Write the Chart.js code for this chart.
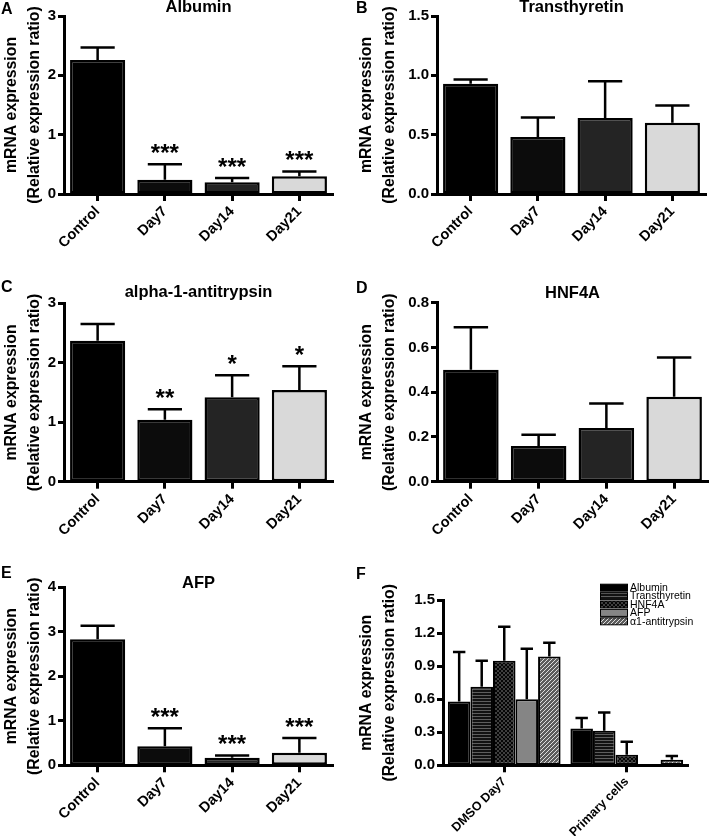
<!DOCTYPE html>
<html>
<head>
<meta charset="utf-8">
<title>Hepatic marker mRNA expression</title>
<script src="https://cdn.jsdelivr.net/npm/chart.js@4.4.0/dist/chart.umd.min.js"></script>
<style>
  html, body { margin: 0; padding: 0; background: #fff; }
  #fig { position: relative; width: 709px; height: 836px; }
  #fig canvas { position: absolute; }
</style>
</head>
<body>
<div id="fig">
  <canvas id="cA" width="355" height="278" style="left:0;top:0"></canvas>
  <canvas id="cB" width="354" height="278" style="left:355px;top:0"></canvas>
  <canvas id="cC" width="355" height="276" style="left:0;top:280px"></canvas>
  <canvas id="cD" width="354" height="276" style="left:355px;top:280px"></canvas>
  <canvas id="cE" width="355" height="280" style="left:0;top:556px"></canvas>
  <canvas id="cF" width="354" height="280" style="left:355px;top:556px"></canvas>
</div>
<script>
// ---- data ----
const days = ['Control', 'Day7', 'Day14', 'Day21'];

const albumin      = [2.26, 0.24, 0.20, 0.30];
const albuminErr   = [0.21, 0.26, 0.07, 0.08];
const albuminSig   = ['', '***', '***', '***'];

const ttr          = [0.93, 0.48, 0.64, 0.60];
const ttrErr       = [0.035, 0.165, 0.31, 0.145];
const ttrSig       = ['', '', '', ''];

const a1at         = [2.37, 1.04, 1.42, 1.54];
const a1atErr      = [0.28, 0.18, 0.37, 0.40];
const a1atSig      = ['', '**', '*', '*'];

const hnf4a        = [0.50, 0.16, 0.24, 0.38];
const hnf4aErr     = [0.19, 0.05, 0.11, 0.175];
const hnf4aSig     = ['', '', '', ''];

const afp          = [2.83, 0.43, 0.17, 0.28];
const afpErr       = [0.30, 0.40, 0.05, 0.33];
const afpSig       = ['', '***', '***', '***'];

// panel F
const cellTypes    = ['DMSO Day7', 'Primary cells'];
const markers      = ['Albumin', 'Transthyretin', 'HNF4A', 'AFP', 'α1-antitrypsin'];
const fAlbumin     = [0.58, 0.335];
const fAlbuminErr  = [0.45, 0.095];
const fTtr         = [0.715, 0.315];
const fTtrErr      = [0.235, 0.165];
const fHnf4a       = [0.95, 0.095];
const fHnf4aErr    = [0.31, 0.12];
const fAfp         = [0.60, null];
const fAfpErr      = [0.46, null];
const fA1at        = [0.99, 0.05];
const fA1atErr     = [0.125, 0.035];

// tick labels
const ticks3   = ['0', '1', '2', '3'];
const ticks15  = ['0.0', '0.5', '1.0', '1.5'];
const ticks08  = ['0.0', '0.2', '0.4', '0.6', '0.8'];
const ticks4   = ['0', '1', '2', '3', '4'];
const ticksF   = ['0.0', '0.3', '0.6', '0.9', '1.2', '1.5'];

const yTitle = ['mRNA expression', '(Relative expression ratio)'];

// ---- styling ----
const FAMILY = '"Liberation Sans", Arial, Helvetica, sans-serif';
const dayColors = ['#000000', '#0c0c0c', '#242424', '#d9d9d9'];

function pattern(kind) {
  const c = document.createElement('canvas');
  const g = c.getContext('2d');
  if (kind === 'hstripe') {
    c.width = 4; c.height = 3;
    g.fillStyle = '#121212'; g.fillRect(0, 0, 4, 3);
    g.fillStyle = '#5e5e5e'; g.fillRect(0, 1, 4, 1);
  } else if (kind === 'check') {
    c.width = 4; c.height = 4;
    g.fillStyle = '#050505'; g.fillRect(0, 0, 4, 4);
    g.fillStyle = '#3e3e3e'; g.fillRect(0, 0, 2, 2); g.fillRect(2, 2, 2, 2);
  } else if (kind === 'diag') {
    c.width = 4; c.height = 4;
    g.fillStyle = '#5c5c5c'; g.fillRect(0, 0, 4, 4);
    g.fillStyle = '#dedede';
    for (let i = 0; i < 4; i++) g.fillRect(i, 3 - i, 1, 1);
  }
  return g.createPattern(c, 'repeat');
}

const markerFills = ['#000000', pattern('hstripe'), pattern('check'), '#858585', pattern('diag')];

// draws error bars, significance stars, panel title, panel letter and (for F) legend
function decor(cfg) {
  return {
    id: 'decor',
    afterDatasetsDraw(chart) {
      const ctx = chart.ctx;
      const ys = chart.scales.y;
      ctx.save();
      ctx.strokeStyle = '#000';
      ctx.lineWidth = 2.5;
      ctx.lineCap = 'butt';
      chart.data.datasets.forEach((ds, i) => {
        const meta = chart.getDatasetMeta(i);
        const errs = cfg.errors[i];
        const sig = cfg.sig ? cfg.sig[i] : null;
        meta.data.forEach((bar, j) => {
          const v = ds.data[j], e = errs[j];
          if (v == null || e == null) return;
          const top = ys.getPixelForValue(v + e);
          const half = bar.width * cfg.capRatio / 2;
          ctx.beginPath();
          ctx.moveTo(bar.x, bar.y);
          ctx.lineTo(bar.x, top);
          ctx.moveTo(bar.x - half, top);
          ctx.lineTo(bar.x + half, top);
          ctx.stroke();
          if (sig && sig[j]) {
            ctx.font = 'bold 24px ' + FAMILY;
            ctx.fillStyle = '#000';
            ctx.textAlign = 'center';
            ctx.textBaseline = 'alphabetic';
            const m = ctx.measureText(sig[j]);
            ctx.fillText(sig[j], bar.x, top - 11 - m.actualBoundingBoxDescent);
          }
        });
      });
      ctx.restore();
    },
    afterDraw(chart) {
      const ctx = chart.ctx;
      const ca = chart.chartArea;
      ctx.save();
      ctx.fillStyle = '#000';
      ctx.textBaseline = 'middle';
      if (cfg.title) {
        ctx.font = 'bold 16.5px ' + FAMILY;
        ctx.textAlign = 'center';
        ctx.fillText(cfg.title, (ca.left + ca.right) / 2, cfg.titleY);
      }
      ctx.font = 'bold 16px ' + FAMILY;
      ctx.textAlign = 'left';
      ctx.fillText(cfg.letter, 1, cfg.letterY);
      if (cfg.legend) {
        const L = cfg.legend;
        ctx.font = '10.5px ' + FAMILY;
        chart.data.datasets.forEach((ds, i) => {
          const y = L.y + i * L.step;
          ctx.fillStyle = ds.backgroundColor;
          ctx.fillRect(L.x, y - 3.5, 28, 7);
          ctx.strokeStyle = '#000';
          ctx.lineWidth = 1;
          ctx.strokeRect(L.x + 0.5, y - 3.5, 27, 7);
          ctx.fillStyle = '#000';
          ctx.fillText(ds.label, L.x + 30, y + 0.5);
        });
      }
      ctx.restore();
    }
  };
}

function panel(id, cfg) {
  const tickLabels = cfg.ticks;
  return new Chart(document.getElementById(id), {
    type: 'bar',
    data: { labels: cfg.labels, datasets: cfg.datasets },
    options: {
      responsive: false,
      animation: false,
      layout: { padding: { top: cfg.top, right: cfg.right, bottom: 0, left: 0 } },
      plugins: { legend: { display: false }, tooltip: { enabled: false }, title: { display: false } },
      datasets: { bar: { categoryPercentage: cfg.catPct, barPercentage: cfg.barPct } },
      scales: {
        x: {
          grid: { display: true, offset: false, drawOnChartArea: false, drawTicks: true,
                  tickLength: 7, tickWidth: 3, tickColor: '#000' },
          border: { display: true, color: '#000', width: 3 },
          ticks: { autoSkip: false, minRotation: 45, maxRotation: 45, padding: 2, color: '#000',
                   font: { family: FAMILY, size: cfg.xFont, weight: 'bold' } },
          afterFit: s => { s.height = cfg.xh; s.paddingLeft = 0; s.paddingRight = 0; }
        },
        y: {
          min: Number(tickLabels[0]),
          max: Number(tickLabels[tickLabels.length - 1]),
          afterBuildTicks: s => { s.ticks = tickLabels.map(t => ({ value: Number(t) })); },
          grid: { display: true, drawOnChartArea: false, drawTicks: true,
                  tickLength: 6, tickWidth: 3, tickColor: '#000' },
          border: { display: true, color: '#000', width: 3 },
          ticks: { padding: 2, color: '#000', callback: (v, i) => tickLabels[i],
                   font: { family: FAMILY, size: 15, weight: 'bold' } },
          title: { display: true, text: yTitle, color: '#000', padding: 0,
                   font: { family: FAMILY, size: 15.8, weight: 'bold', lineHeight: 1.45 } },
          afterFit: s => { s.width = cfg.yw; s.paddingTop = 0; s.paddingBottom = 0; }
        }
      }
    },
    plugins: [decor(cfg)]
  });
}

function dayPanel(id, values, errs, sig, ticks, extra) {
  return panel(id, Object.assign({
    labels: days,
    datasets: [{ data: values, backgroundColor: dayColors, borderColor: '#000',
                 borderWidth: 2.5, borderSkipped: false }],
    errors: [errs], sig: [sig], ticks,
    catPct: 1, barPct: 0.82, capRatio: 0.62, xFont: 14.5
  }, extra));
}

dayPanel('cA', albumin, albuminErr, albuminSig, ticks3,
  { title: 'Albumin', titleY: 7.5, letter: 'A', letterY: 10, yw: 64, right: 22, top: 16, xh: 84 });
dayPanel('cB', ttr, ttrErr, ttrSig, ticks15,
  { title: 'Transthyretin', titleY: 7.5, letter: 'B', letterY: 8.5, yw: 82, right: 3, top: 16, xh: 84 });
dayPanel('cC', a1at, a1atErr, a1atSig, ticks3,
  { title: 'alpha-1-antitrypsin', titleY: 12.5, letter: 'C', letterY: 7.5, yw: 64, right: 22, top: 23.3, xh: 74.3 });
dayPanel('cD', hnf4a, hnf4aErr, hnf4aSig, ticks08,
  { title: 'HNF4A', titleY: 13, letter: 'D', letterY: 9, yw: 82, right: 1, top: 22.7, xh: 74.3 });
dayPanel('cE', afp, afpErr, afpSig, ticks4,
  { title: 'AFP', titleY: 27, letter: 'E', letterY: 17.5, yw: 64, right: 22, top: 31, xh: 70.7 });

const fSeries = [fAlbumin, fTtr, fHnf4a, fAfp, fA1at];
const fErrors = [fAlbuminErr, fTtrErr, fHnf4aErr, fAfpErr, fA1atErr];

panel('cF', {
  labels: cellTypes,
  datasets: fSeries.map((d, i) => ({
    label: markers[i], data: d, backgroundColor: markerFills[i],
    borderColor: '#000', borderWidth: 2, borderSkipped: false
  })),
  errors: fErrors, sig: null, ticks: ticksF,
  catPct: 0.92, barPct: 1, capRatio: 0.55, xFont: 12.5,
  title: null, letter: 'F', letterY: 19,
  legend: { x: 245, y: 31.7, step: 8.4 },
  yw: 88, right: 21, top: 44.3, xh: 70.7
});
</script>
</body>
</html>
